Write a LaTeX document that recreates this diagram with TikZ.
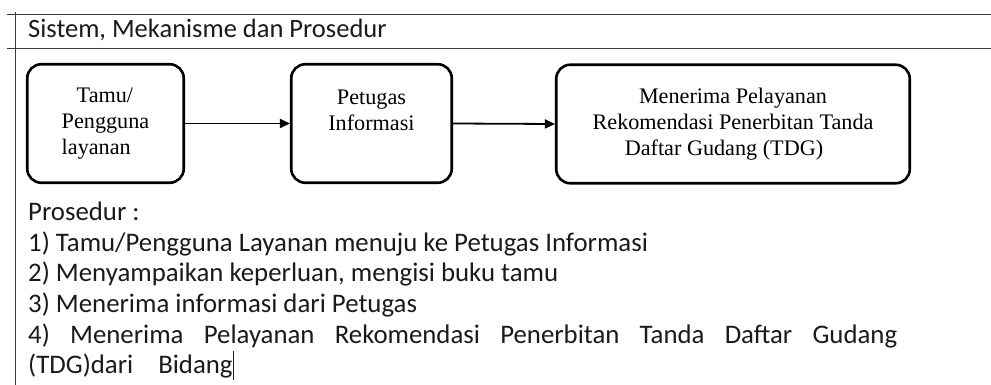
\documentclass[tikz,border=0pt]{standalone}
\usepackage{fontspec}
\setmainfont{Carlito}
\newfontfamily\kotakfont{Liberation Serif}
\usetikzlibrary{arrows.meta,positioning}
\definecolor{garistabel}{HTML}{3A3A3A}
\definecolor{teksutama}{HTML}{1A1A1A}

\begin{document}
\begin{tikzpicture}[x=1pt, y=-1pt,
    kotak/.style={draw=black, line width=2.6pt, rounded corners=14pt, minimum height=118.5pt,
        align=center, inner sep=0pt, font=\kotakfont\fontsize{22.2}{26}\selectfont},
    panah/.style={line width=1.8pt, -{Triangle[length=10pt,width=9pt]}},
    baris/.style={anchor=base west, inner sep=0pt, font=\fontsize{26.8}{31}\selectfont, text=teksutama}]
    \useasboundingbox (0,0) rectangle (991,385);

    % Table lines
    \draw[garistabel, line width=1pt] (7,14.5) -- (991,14.5);
    \draw[garistabel, line width=1pt] (7,49) -- (991,49);
    \draw[garistabel, line width=1pt] (15,12) -- (15,385);

    % Title
    \node[baris, font=\fontsize{26.5}{31}\selectfont] (judul) at (28,38) {Sistem, Mekanisme dan Prosedur};

    % Flow boxes
    \node[kotak, minimum width=156.5pt, align=left] (tamu) at (105.5,123.5)
        {\hspace*{15pt}Tamu/\\Pengguna\\layanan};
    \node[kotak, minimum width=160.5pt] (petugas) at (371.5,123.5)
        {Petugas\\Informasi\\\mbox{}};
    \node[kotak, minimum width=353.5pt] (layanan) at (733,124)
        {Menerima Pelayanan\\Rekomendasi Penerbitan Tanda\\Daftar Gudang (TDG)\hspace*{18pt}};

    % Arrows
    \draw[panah] (tamu.east) -- (petugas.west);
    \draw[panah] (petugas.east) -- (layanan.west);

    % Procedure text
    \node[baris] (prosedur) at (28,220) {Prosedur :};
    \node[baris] (langkah1) at (28,251) {1) Tamu/Pengguna Layanan menuju ke Petugas Informasi};
    \node[baris] (langkah2) at (28,281) {2) Menyampaikan keperluan, mengisi buku tamu};
    \node[baris] (langkah3) at (28,312) {3) Menerima informasi dari Petugas};
    \node[baris] (langkah4) at (28,343)
        {\makebox[869pt][s]{4) Menerima Pelayanan Rekomendasi Penerbitan Tanda Daftar Gudang}};
    \node[baris] (langkah5) at (28,373) {(TDG)dari\hspace{25pt}Bidang\rule[-7pt]{0.8pt}{29pt}};
\end{tikzpicture}
\end{document}
